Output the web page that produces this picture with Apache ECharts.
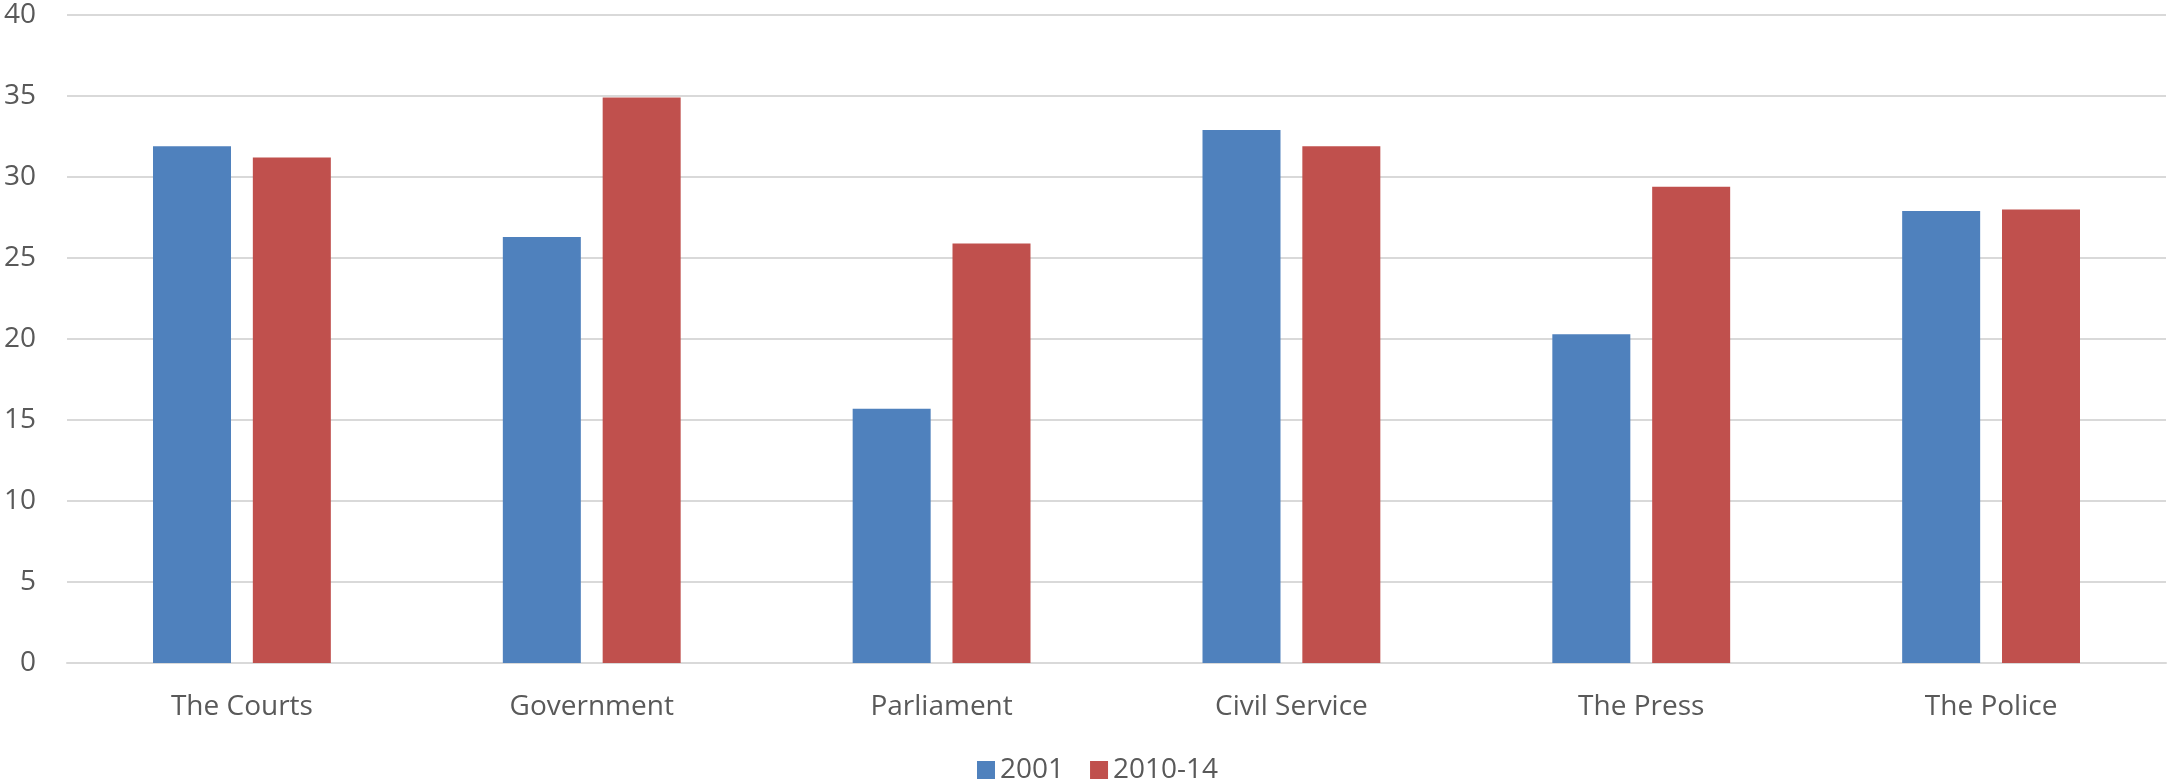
<!DOCTYPE html>
<html>
<head>
<meta charset="utf-8">
<title>Trust in institutions</title>
<script src="https://cdn.jsdelivr.net/npm/echarts@6/dist/echarts.min.js"></script>
<style>
  html, body { margin: 0; padding: 0; background: #ffffff; }
  #chart { width: 2168px; height: 781px; }
</style>
</head>
<body>
<div id="chart"></div>
<script>
// Institutions along the x axis
const categories = ['The Courts', 'Government', 'Parliament', 'Civil Service', 'The Press', 'The Police'];

// Series values
const values2001 = [31.9, 26.3, 15.7, 32.9, 20.3, 27.9];
const values2010_14 = [31.2, 34.9, 25.9, 31.9, 29.4, 28.0];

// Y axis range
const yMin = 0;
const yMax = 40;
const yStep = 5;

const textColor = '#595959';
const gridColor = '#d9d9d9';
const fontFamily = '"Open Sans", "Liberation Sans", sans-serif';

const chart = echarts.init(document.getElementById('chart'), null, { renderer: 'canvas' });

chart.setOption({
  animation: false,
  backgroundColor: '#ffffff',
  textStyle: { fontFamily: fontFamily },
  grid: { left: 67, right: 2, top: 15, bottom: 118, containLabel: false },
  legend: {
    data: ['2001', '2010-14'],
    left: 972,
    top: 751,
    icon: 'rect',
    itemWidth: 18,
    itemHeight: 18,
    itemGap: 26,
    textStyle: { color: textColor, fontSize: 28, fontFamily: fontFamily, padding: [0, 0, 0, 0] }
  },
  xAxis: {
    type: 'category',
    data: categories,
    axisLine: { show: true, lineStyle: { color: gridColor, width: 2 } },
    axisTick: { show: false },
    axisLabel: { color: textColor, fontSize: 28, margin: 30, fontFamily: fontFamily }
  },
  yAxis: {
    type: 'value',
    min: yMin,
    max: yMax,
    interval: yStep,
    axisLine: { show: false },
    axisTick: { show: false },
    axisLabel: { color: textColor, fontSize: 28, margin: 31, fontFamily: fontFamily },
    splitLine: { lineStyle: { color: gridColor, width: 2 } }
  },
  series: [
    {
      name: '2001',
      type: 'bar',
      data: values2001,
      barWidth: 78,
      barGap: '28%',
      itemStyle: { color: '#4f81bd' }
    },
    {
      name: '2010-14',
      type: 'bar',
      data: values2010_14,
      barWidth: 78,
      barGap: '28%',
      itemStyle: { color: '#c0504d' }
    }
  ]
});
</script>
</body>
</html>
